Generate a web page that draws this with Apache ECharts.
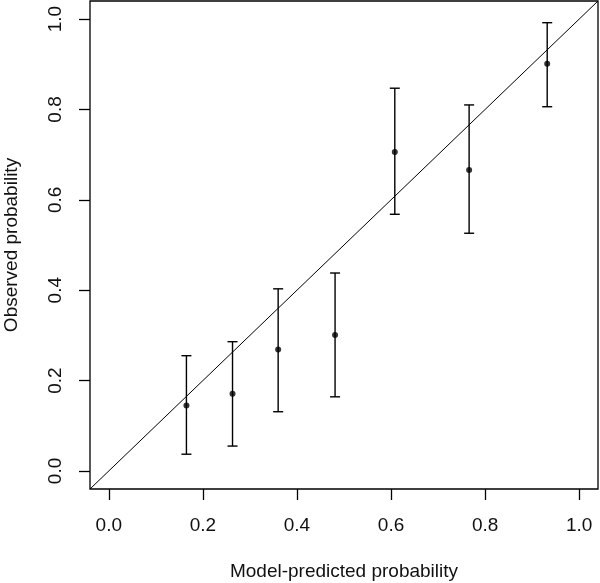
<!DOCTYPE html>
<html>
<head>
<meta charset="utf-8">
<script src="https://cdn.jsdelivr.net/npm/echarts@6/dist/echarts.min.js"></script>
<style>html,body{margin:0;padding:0;background:#fff;}#c{width:600px;height:583px;}</style>
</head>
<body>
<div id="c"></div>
<script>
const predicted = [0.165, 0.263, 0.360, 0.481, 0.608, 0.766, 0.932];
const observed  = [0.145, 0.171, 0.269, 0.301, 0.706, 0.666, 0.901];
const lower     = [0.037, 0.055, 0.131, 0.164, 0.568, 0.526, 0.806];
const upper     = [0.255, 0.286, 0.403, 0.438, 0.847, 0.810, 0.992];
const tickValues = [0, 0.2, 0.4, 0.6, 0.8, 1.0];
const axisRange = [-0.04, 1.04];
const diagonal = [-0.04, 1.04];

const font = 'Liberation Sans, Arial, sans-serif';
const chart = echarts.init(document.getElementById('c'), null, {renderer: 'canvas'});

const points = predicted.map((x, i) => [x, observed[i]]);
const bars = predicted.map((x, i) => [x, lower[i], upper[i]]);

function axisCommon(name, nameGap, labelMargin, rotate) {
  return {
    type: 'value',
    min: axisRange[0],
    max: axisRange[1],
    name: name,
    nameLocation: 'middle',
    nameGap: nameGap,
    nameTextStyle: {color: '#111', fontSize: 19, fontFamily: font},
    axisLine: {show: false, onZero: false},
    splitLine: {show: false},
    axisTick: {show: true, inside: false, length: 11, customValues: tickValues, lineStyle: {color: '#000', width: 1.3}},
    axisLabel: {show: true, customValues: tickValues, margin: labelMargin, rotate: rotate, color: '#111', fontSize: 19, fontFamily: font,
      formatter: v => Number(v).toFixed(1)}
  };
}

chart.setOption({
  animation: false,
  backgroundColor: '#fff',
  grid: {left: 90, right: 2, top: 1, bottom: 94, containLabel: false, outerBoundsMode: 'none',
         show: true, borderColor: '#000', borderWidth: 1.3, backgroundColor: 'transparent'},
  xAxis: axisCommon('Model-predicted probability', 73, 27, 0),
  yAxis: axisCommon('Observed probability', 69, 25, 90),
  series: [
    {
      type: 'line',
      data: [[diagonal[0], diagonal[0]], [diagonal[1], diagonal[1]]],
      showSymbol: false,
      symbol: 'none',
      lineStyle: {color: '#000', width: 1},
      silent: true
    },
    {
      type: 'custom',
      data: bars,
      renderItem: function (params, api) {
        const x = api.value(0);
        const lo = api.coord([x, api.value(1)]);
        const hi = api.coord([x, api.value(2)]);
        const w = 5;
        const style = {stroke: '#000', lineWidth: 1.4};
        return {
          type: 'group',
          children: [
            {type: 'line', shape: {x1: lo[0], y1: lo[1], x2: hi[0], y2: hi[1]}, style: style},
            {type: 'line', shape: {x1: lo[0] - w, y1: lo[1], x2: lo[0] + w, y2: lo[1]}, style: style},
            {type: 'line', shape: {x1: hi[0] - w, y1: hi[1], x2: hi[0] + w, y2: hi[1]}, style: style}
          ]
        };
      }
    },
    {
      type: 'scatter',
      data: points,
      symbol: 'circle',
      symbolSize: 6,
      itemStyle: {color: '#000'}
    }
  ]
});
</script>
</body>
</html>
